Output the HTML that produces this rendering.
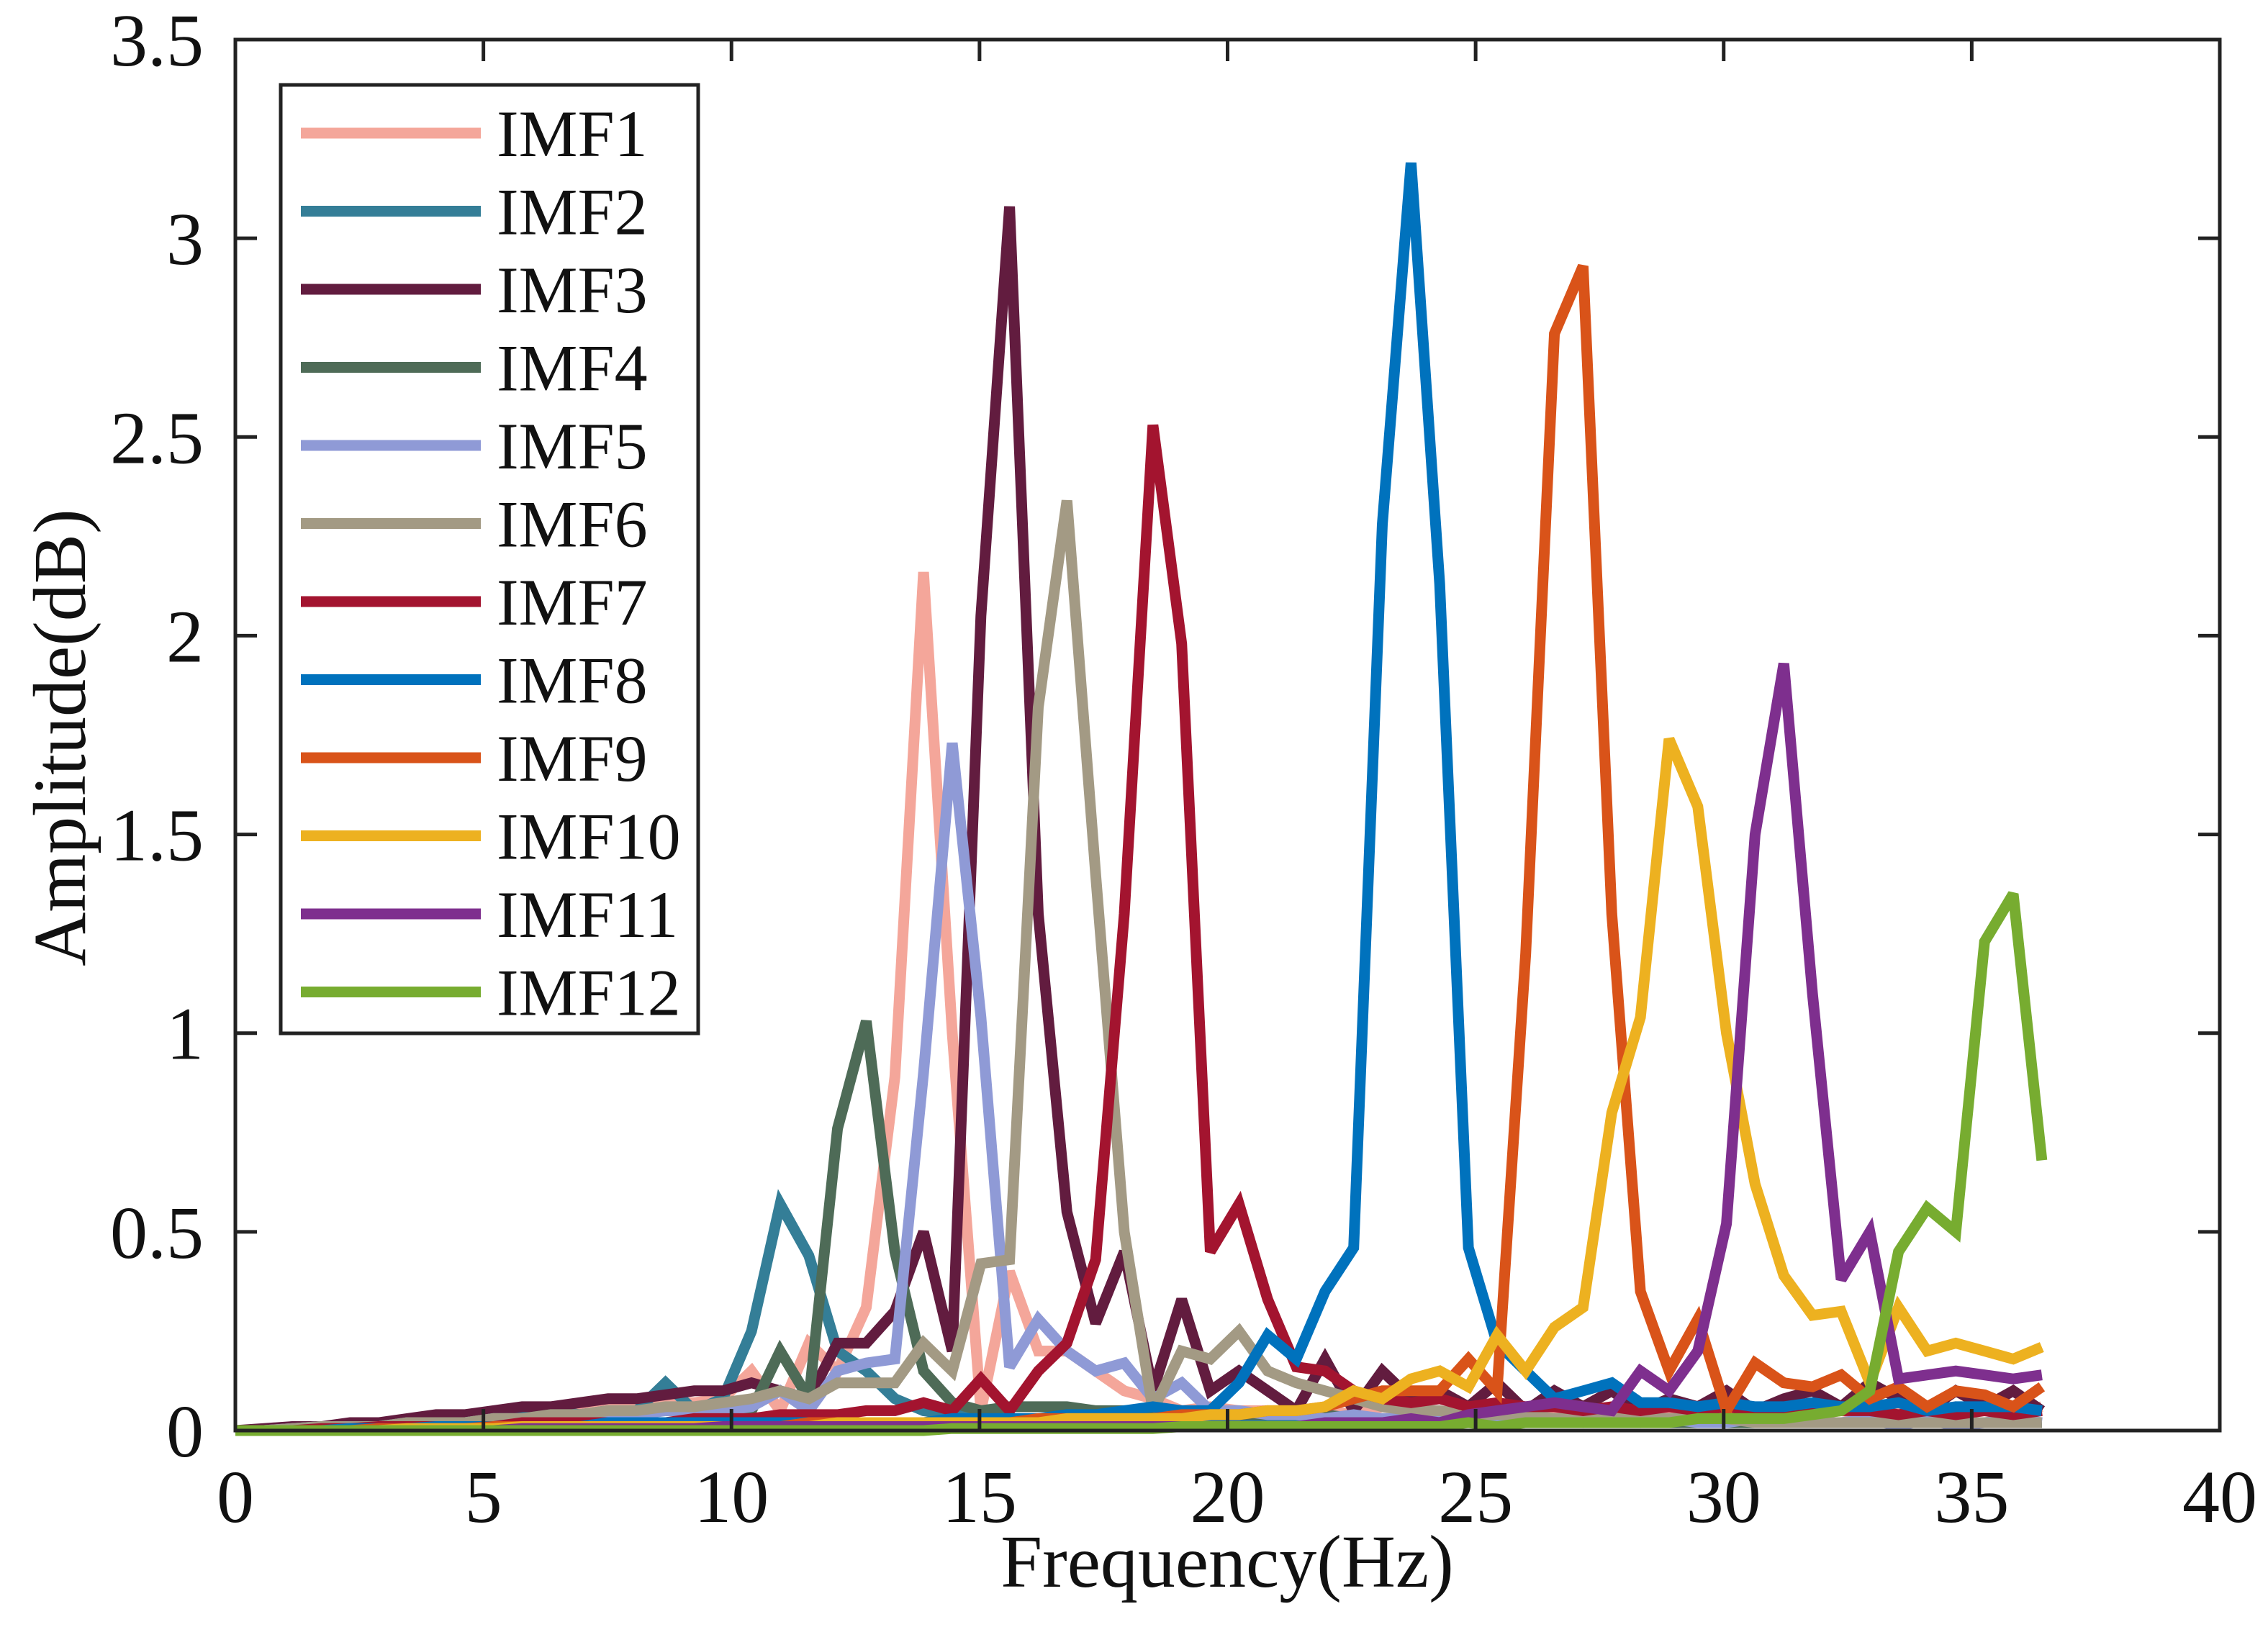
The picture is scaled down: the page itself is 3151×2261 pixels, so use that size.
<!DOCTYPE html>
<html><head><meta charset="utf-8"><style>
html,body{margin:0;padding:0;background:#fff;}
svg text{font-family:"Liberation Serif",serif;fill:#111;}
</style></head><body>
<svg id="chart" width="3151" height="2256" viewBox="0 0 3151 2256" xmlns="http://www.w3.org/2000/svg">
<rect width="3151" height="2256" fill="#fff"/>
<g id="series"></g>
<g id="axes"></g>
<g id="legend"></g>
</svg>
<script>
const freqStep = 0.578;
const seriesNames = ["IMF1","IMF2","IMF3","IMF4","IMF5","IMF6","IMF7","IMF8","IMF9","IMF10","IMF11","IMF12"];
const seriesColors = ["#F4A69A","#347E97","#621C3F","#4E6B57","#8F9AD6","#A39A84","#A3142F","#0072BD","#D95319","#EDB120","#7E2F8E","#77AC30"];
const imf1 = [0,0,0.01,0.01,0.01,0.02,0.02,0.03,0.03,0.04,0.04,0.05,0.05,0.06,0.06,0.07,0.07,
0.08,0.15,0.05,0.22,0.15,0.31,0.89,2.16,1.0,0.05,0.4,0.2,0.2,0.15,0.1,
0.08,0.05,0.06,0.05,0.05,0.04,0.05,0.04,0.06,0.05,0.04,0.05,0.04,0.05,0.04,0.05,0.05,0.06,0.05,0.05,0.04,0.05,0.05,0.04,0.05,0.04,0.05,0.04,0.06,0.05,0.04,0.06];
const imf2 = [0,0,0.01,0.01,0.01,0.02,0.02,0.02,0.03,0.03,0.04,0.05,0.04,0.05,0.05,0.12,0.05,
0.08,0.25,0.57,0.44,0.2,0.15,0.08,0.05,0.04,0.04,
0.03,0.03,0.03,0.02,0.03,0.03,0.02,0.03,0.02,0.03,0.02,0.02,0.03,0.02,0.02,0.03,0.02,0.02,0.02,0.03,0.02,0.02,0.02,0.02,0.03,0.02,0.02,0.02,0.02,0.02,0.02,0.02,0.02,0.02,0.02,0.02,0.02];
const imf3 = [0,0.005,0.01,0.01,0.02,0.02,0.03,0.04,0.04,0.05,0.06,0.06,0.07,0.08,0.08,0.09,0.1,
0.1,0.12,0.1,0.08,0.22,0.22,0.3,0.5,0.2,2.05,3.08,1.3,0.55,0.27,0.45,
0.1,0.33,0.1,0.15,0.1,0.05,0.18,0.05,0.15,0.08,0.1,0.06,0.12,0.05,0.1,0.06,0.1,0.05,0.08,0.06,0.1,0.05,0.08,0.1,0.06,0.12,0.08,0.05,0.1,0.06,0.1,0.05];
const imf4 = [0,0,0.005,0.01,0.01,0.01,0.02,0.02,0.02,0.03,0.03,0.04,0.04,0.04,0.05,0.05,0.05,
0.06,0.05,0.2,0.08,0.76,1.03,0.45,0.15,0.07,0.05,0.06,0.06,0.06,0.05,0.05,
0.05,0.05,0.04,0.04,0.04,0.04,0.04,0.03,0.03,0.03,0.03,0.03,0.03,0.03,0.03,0.03,0.02,0.02,0.02,0.02,0.02,0.02,0.02,0.02,0.02,0.02,0.02,0.02,0.02,0.02,0.02,0.02];
const imf5 = [0,0,0.005,0.01,0.01,0.01,0.02,0.02,0.02,0.03,0.03,0.03,0.04,0.04,0.04,0.05,0.05,
0.05,0.06,0.1,0.05,0.15,0.17,0.18,0.9,1.73,1.04,0.16,0.28,0.2,0.15,0.17,
0.08,0.12,0.05,0.05,0.04,0.04,0.03,0.04,0.03,0.03,0.04,0.03,0.03,0.03,0.03,0.02,0.03,0.02,0.03,0.02,0.02,0.03,0.02,0.02,0.02,0.03,0.01,0.03,0.01,0.02,0.03,0.02];
const imf6 = [0,0,0.005,0.01,0.01,0.01,0.02,0.02,0.02,0.03,0.03,0.04,0.04,0.05,0.05,0.06,0.06,
0.07,0.08,0.1,0.08,0.12,0.12,0.12,0.22,0.15,0.42,0.43,1.82,2.34,1.4,0.5,
0.05,0.2,0.18,0.25,0.15,0.12,0.1,0.08,0.06,0.05,0.05,0.04,0.04,0.04,0.03,0.03,0.03,0.03,0.03,0.03,0.03,0.02,0.02,0.02,0.02,0.02,0.02,0.02,0.02,0.02,0.02,0.02];
const imf7 = [0,0,0,0.005,0.005,0.01,0.01,0.01,0.01,0.01,0.02,0.02,0.02,0.02,0.02,0.02,0.03,
0.03,0.03,0.04,0.04,0.04,0.05,0.05,0.07,0.05,0.13,0.05,0.15,0.22,0.43,1.3,
2.53,1.98,0.45,0.57,0.33,0.16,0.15,0.1,0.08,0.07,0.08,0.06,0.07,0.06,0.06,0.05,0.06,0.05,0.06,0.05,0.06,0.05,0.05,0.06,0.05,0.05,0.04,0.05,0.04,0.05,0.04,0.05];
const imf8 = [0,0,0,0,0.005,0.005,0.005,0.01,0.01,0.01,0.01,0.01,0.01,0.02,0.02,0.02,0.02,
0.02,0.02,0.02,0.02,0.02,0.02,0.02,0.02,0.03,0.03,0.03,0.03,0.04,0.04,0.05,
0.06,0.05,0.05,0.12,0.24,0.18,0.35,0.46,2.28,3.19,2.13,0.46,0.22,0.15,0.08,0.1,0.12,0.07,0.07,0.06,0.07,0.06,0.06,0.07,0.06,0.06,0.07,0.05,0.06,0.06,0.06,0.05];
const imf9 = [0,0,0,0,0,0.005,0.005,0.005,0.005,0.01,0.01,0.01,0.01,0.01,0.01,0.01,0.01,
0.01,0.01,0.01,0.02,0.02,0.02,0.02,0.02,0.02,0.02,0.02,0.03,0.03,0.03,0.03,
0.03,0.04,0.04,0.04,0.05,0.05,0.06,0.08,0.1,0.1,0.1,0.18,0.1,1.2,2.76,2.93,1.3,0.35,0.15,0.28,0.05,0.17,0.12,0.11,0.14,0.08,0.11,0.06,0.1,0.09,0.06,0.11];
const imf10 = [0,0,0,0,0,0,0.005,0.005,0.005,0.005,0.01,0.01,0.01,0.01,0.01,0.01,0.01,
0.01,0.01,0.01,0.01,0.02,0.02,0.02,0.02,0.02,0.02,0.02,0.02,0.03,0.03,0.03,
0.03,0.03,0.04,0.04,0.05,0.05,0.06,0.1,0.08,0.13,0.15,0.11,0.24,0.15,0.26,0.31,0.8,1.04,1.74,1.57,1.0,0.62,0.39,0.29,0.3,0.12,0.31,0.2,0.22,0.2,0.18,0.21];
const imf11 = [0,0,0,0,0,0,0,0,0,0,0.005,0.005,0.005,0.005,0.005,0.005,0.005,
0.01,0.01,0.01,0.01,0.01,0.01,0.01,0.01,0.01,0.01,0.01,0.01,0.01,0.01,0.01,
0.01,0.01,0.01,0.01,0.01,0.01,0.02,0.02,0.02,0.03,0.02,0.04,0.05,0.06,0.07,0.06,0.05,0.15,0.1,0.2,0.52,1.5,1.93,1.1,0.38,0.5,0.13,0.14,0.15,0.14,0.13,0.14];
const imf12 = [0,0,0,0,0,0,0,0,0,0,0,0,0,0,0,0,0,
0,0,0,0,0,0,0,0,0.005,0.005,0.005,0.005,0.005,0.005,0.005,
0.005,0.01,0.01,0.01,0.01,0.01,0.01,0.01,0.01,0.01,0.01,0.02,0.01,0.02,0.02,0.02,0.02,0.02,0.02,0.03,0.03,0.03,0.03,0.04,0.05,0.1,0.45,0.56,0.5,1.23,1.35,0.68];
const allSeries = [imf1,imf2,imf3,imf4,imf5,imf6,imf7,imf8,imf9,imf10,imf11,imf12];
const xTicks = [0,5,10,15,20,25,30,35,40];
const yTicks = [0,0.5,1,1.5,2,2.5,3,3.5];
const yTickLabels = ["0","0.5","1","1.5","2","2.5","3","3.5"];

const NS = "http://www.w3.org/2000/svg";
const L = 327, R = 3084, T = 55, B = 1988;
const xMin = 0, xMax = 40, yMin = 0, yMax = 3.5;
function xs(f){ return L + (f - xMin) / (xMax - xMin) * (R - L); }
function ys(v){ return B - (v - yMin) / (yMax - yMin) * (B - T); }
function mk(tag, attrs, parent){
  const e = document.createElementNS(NS, tag);
  for (const k in attrs) e.setAttribute(k, attrs[k]);
  parent.appendChild(e);
  return e;
}
const gS = document.getElementById("series");
allSeries.forEach((vals, s) => {
  const pts = vals.map((v, i) => xs(i * freqStep).toFixed(1) + "," + ys(v).toFixed(1)).join(" ");
  const pl = mk("polyline", {points: pts, fill: "none", stroke: seriesColors[s], "stroke-width": 15, "stroke-linejoin": "miter", "stroke-miterlimit": 3}, gS);
  
  
});
const gA = document.getElementById("axes");
const frame = mk("rect", {x: L, y: T, width: R - L, height: B - T, fill: "none", stroke: "#222", "stroke-width": 5}, gA);


xTicks.forEach(t => {
  const x = xs(t);
  const tk = mk("path", {d: `M${x},${B}V${B-30}M${x},${T}V${T+30}`, stroke: "#222", "stroke-width": 5}, gA);
  
  
  const lb = mk("text", {x: x, y: 2115, "font-size": 104, "text-anchor": "middle"}, gA);
  lb.textContent = String(t);
  
  
});
yTicks.forEach((t, i) => {
  const y = ys(t);
  const tk = mk("path", {d: `M${L},${y}H${L+30}M${R},${y}H${R-30}`, stroke: "#222", "stroke-width": 5}, gA);
  
  
  const lb = mk("text", {x: 283, y: y + 36, "font-size": 104, "text-anchor": "end"}, gA);
  lb.textContent = yTickLabels[i];
  
  
});
const xt = mk("text", {x: 1705, y: 2205, "font-size": 104, "text-anchor": "middle"}, gA);
xt.textContent = "Frequency(Hz)";


const yt = mk("text", {x: 0, y: 0, "font-size": 104, "text-anchor": "middle", transform: "translate(118,1025) rotate(-90)"}, gA);
yt.textContent = "Amplitude(dB)";



const gL = document.getElementById("legend");


mk("rect", {x: 390, y: 118, width: 580, height: 1318, fill: "#fff", stroke: "#222", "stroke-width": 5}, gL);
seriesNames.forEach((n, k) => {
  const y = 185 + 108.5 * k;
  const g = mk("g", {}, gL);
  
  
  mk("line", {x1: 418, x2: 668, y1: y, y2: y, stroke: seriesColors[k], "stroke-width": 15}, g);
  const t = mk("text", {x: 690, y: y + 32, "font-size": 92}, g);
  t.textContent = n;
});
</script>
</body></html>
